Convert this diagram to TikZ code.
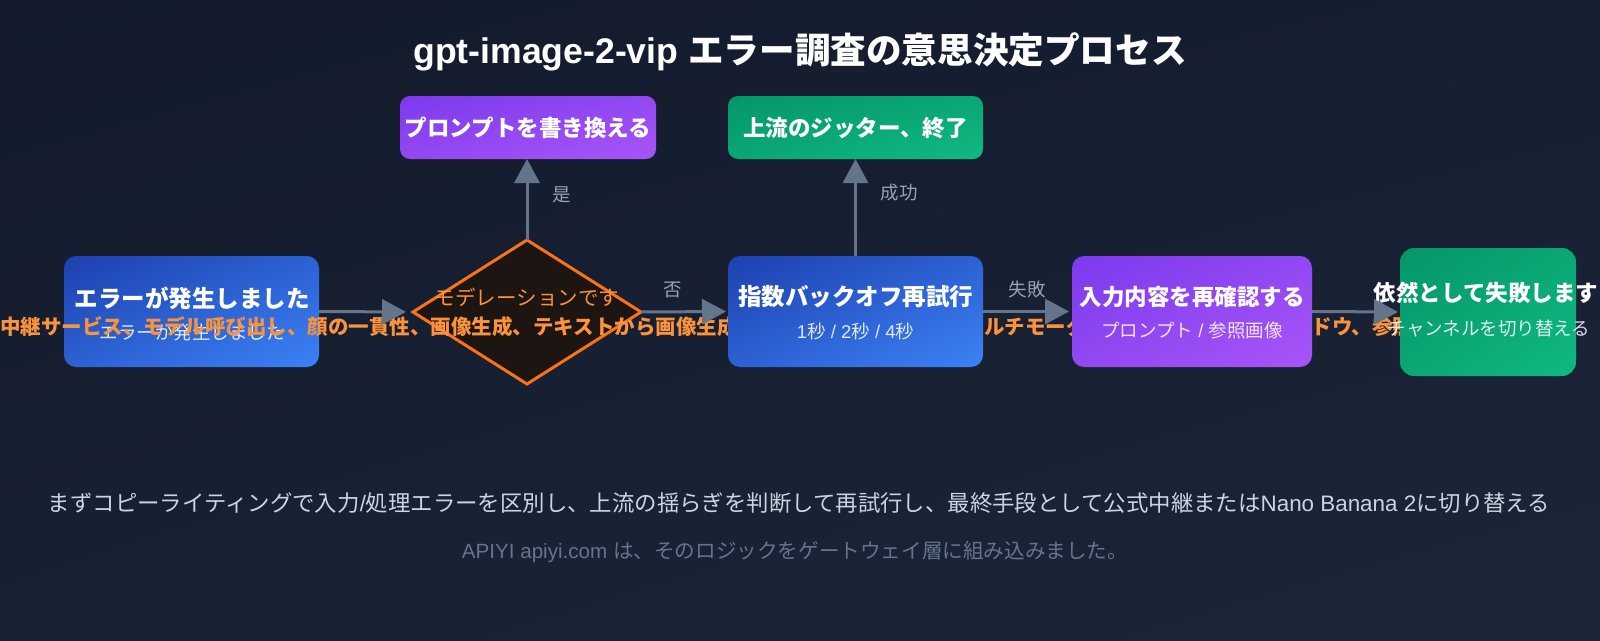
\documentclass[tikz,border=0pt]{standalone}
\usepackage{fontspec}
\setmainfont{Noto Sans CJK JP}
\newfontfamily\lat{Liberation Sans}
\usetikzlibrary{arrows.meta,shapes.geometric,shadings}
\definecolor{bgUL}{HTML}{121A2C}
\definecolor{bgUR}{HTML}{161E31}
\definecolor{bgLL}{HTML}{182033}
\definecolor{bgLR}{HTML}{1D2639}
\definecolor{blueA}{HTML}{1E40AF}
\definecolor{blueB}{HTML}{3B82F6}
\definecolor{blueM}{HTML}{2C61D2}
\definecolor{purA}{HTML}{7C3AED}
\definecolor{purB}{HTML}{A855F7}
\definecolor{purM}{HTML}{9248F2}
\definecolor{grnA}{HTML}{059669}
\definecolor{grnB}{HTML}{10B981}
\definecolor{grnM}{HTML}{0AA775}
\definecolor{decfill}{HTML}{1C1512}
\definecolor{orS}{HTML}{F97316}
\definecolor{orT}{HTML}{FB923C}
\definecolor{arrc}{HTML}{64748B}
\definecolor{labc}{HTML}{94A3B8}
\definecolor{notec}{HTML}{CBD5E1}
\definecolor{footc}{HTML}{64748B}
\tikzset{
  box/.style={rectangle, rounded corners=12pt, inner sep=0pt, outer sep=0pt},
  bluebox/.style={box, upper left=blueA, lower right=blueB, upper right=blueM, lower left=blueM},
  purbox/.style={box, upper left=purA, lower right=purB, upper right=purM, lower left=purM},
  grnbox/.style={box, upper left=grnA, lower right=grnB, upper right=grnM, lower left=grnM},
  mtext/.style={text=white, font=\bfseries\fontsize{22.5}{27}\selectfont, inner sep=0pt},
  stext/.style={text=white, text opacity=0.85, font=\fontsize{18.5}{22}\selectfont, inner sep=0pt},
  arr/.style={draw=arrc, line width=3pt, -{Triangle[length=24pt,width=25pt]}},
  lab/.style={text=labc, font=\fontsize{18.5}{22}\selectfont, inner sep=0pt},
  otext/.style={text=orT, font=\bfseries\fontsize{20.5}{24}\selectfont, inner sep=0pt, anchor=west},
}
\begin{document}
\begin{tikzpicture}[x=1pt,y=-1pt]
\useasboundingbox (0,0) rectangle (1600,640);
\shade[upper left=bgUL, upper right=bgUR, lower left=bgLL, lower right=bgLR] (0,0) rectangle (1600,640);

% box 1 and diamond (below the orange keyword line)
\node[bluebox, minimum width=255pt, minimum height=111pt] (b1) at (191.5,311.5) {};
\node[mtext, font=\bfseries\fontsize{23.5}{28}\selectfont] (b1t) at (192,298) {エラーが発生しました};
\node[stext] (b1s) at (192,332) {エラーが発生しました};

\node[diamond, draw=orS, line width=3pt, fill=decfill, minimum width=228pt, minimum height=144pt, inner sep=0pt, outer sep=0pt] (dec) at (527,312) {};
\node[text=orT, font=\fontsize{20.5}{24}\selectfont, inner sep=0pt] (dect) at (527,297) {モデレーションです};

% orange keyword line
\node[otext] (kw1) at (0,327) {中継サービス、モデル呼び出し、顔の一貫性、画像生成、テキストから画像生成、};
\node[otext] (kw2) at (963.5,327) {マルチモーダル、コンテキストウィンドウ、参照画像};

% other boxes
\node[bluebox, minimum width=255pt, minimum height=111pt] (b3) at (855.5,311.5) {};
\node[mtext, font=\bfseries\fontsize{23.5}{28}\selectfont] (b3t) at (855.5,297) {指数バックオフ再試行};
\node[stext] (b3s) at (855.5,331) {{\lat 1}秒{\lat\ / 2}秒{\lat\ / 4}秒};

\node[purbox, minimum width=240pt, minimum height=111pt] (b4) at (1192,311.5) {};
\node[mtext] (b4t) at (1192,297) {入力内容を再確認する};
\node[stext] (b4s) at (1192,331) {プロンプト{\lat\ / }参照画像};

\node[grnbox, rounded corners=14pt, minimum width=176pt, minimum height=128pt] (b5) at (1488,312) {};
\node[mtext] (b5t) at (1486,293) {依然として失敗します};
\node[stext] (b5s) at (1489,329) {チャンネルを切り替える};

\node[purbox, rounded corners=10pt, minimum width=256pt, minimum height=63pt] (pa) at (528,127.5) {};
\node[mtext] (pat) at (528,128) {プロンプトを書き換える};
\node[grnbox, rounded corners=10pt, minimum width=255pt, minimum height=63pt] (pb) at (855.5,127.5) {};
\node[mtext] (pbt) at (855.5,128) {上流のジッター、終了};

% connectors
\draw[arr, shorten >=7pt] (b1.east) -- (dec.west);
\draw[arr, shorten >=2pt] (dec.east) -- (b3.west);
\draw[arr, shorten >=3pt] (b3.east) -- (b4.west);
\draw[arr, shorten >=2pt] (b4.east) -- (b5.west);
\draw[arr] (dec.north) -- (dec.north |- pa.south);
\draw[arr] (b3.north) -- (pb.south);

\node[lab] (lyes) at (562,195) {是};
\node[lab] (lok) at (899,193) {成功};
\node[lab] (lno) at (673,290) {否};
\node[lab] (lfail) at (1027,289) {失敗};

% title and notes
\node[text=white, font=\bfseries\fontsize{35.6}{42}\selectfont, inner sep=0pt, anchor=base] (title) at (800,63) {{\lat gpt-image-2-vip }エラー調査の意思決定プロセス};
\node[text=notec, font=\fontsize{22.4}{26}\selectfont, inner sep=0pt] (note) at (799,503) {まずコピーライティングで入力{\lat /}処理エラーを区別し、上流の揺らぎを判断して再試行し、最終手段として公式中継または{\lat Nano Banana 2}に切り替える};
\node[text=footc, font=\fontsize{20.6}{24}\selectfont, inner sep=0pt] (foot) at (795,552) {{\lat APIYI apiyi.com }は、そのロジックをゲートウェイ層に組み込みました。};
\end{tikzpicture}
\end{document}
